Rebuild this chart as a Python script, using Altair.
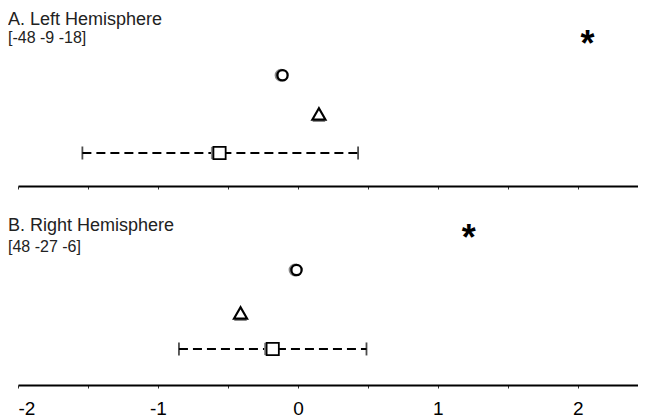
import altair as alt
import pandas as pd

# ---- data ----
panel_titles = ["A. Left Hemisphere", "B. Right Hemisphere"]
panel_coords = ["[-48 -9 -18]", "[48 -27 -6]"]
circle_x = [-0.11, -0.01]
triangle_x = [0.15, -0.41]
square_x = [-0.56, -0.18]
err_lo = [-1.54, -0.85]
err_hi = [0.43, 0.49]
star_x = [2.07, 1.22]

# vertical row positions inside each panel (row units)
row_title = [0.52, 0.84]
row_coord = [1.01, 1.39]
row_star = [1.0, 1.0]
row_circle = [1.97, 1.99]
row_triangle = [2.98, 3.11]
row_square = [4.0, 4.05]
y_domains = [[0.217, 4.861], [0.139, 4.99]]
panel_heights = [178, 186]

tick_values = [-2, -1.5, -1, -0.5, 0, 0.5, 1, 1.5, 2]
x_domain = [-2, 2.43]

FONT = "Liberation Sans"
GRAY = "#8a8a8a"


def panel(i, show_labels):
    df = pd.DataFrame({
        "title": [panel_titles[i]],
        "coord": [panel_coords[i]],
        "circle": [circle_x[i]],
        "triangle": [triangle_x[i]],
        "square": [square_x[i]],
        "lo": [err_lo[i]],
        "hi": [err_hi[i]],
        "star": [star_x[i]],
        "r_title": [row_title[i]],
        "r_coord": [row_coord[i]],
        "r_star": [row_star[i]],
        "r_circle": [row_circle[i]],
        "r_triangle": [row_triangle[i]],
        "r_square": [row_square[i]],
    })
    xs = alt.Scale(domain=x_domain, nice=False, zero=False)
    ys = alt.Scale(domain=y_domains[i], reverse=True, nice=False, zero=False)
    axis = alt.Axis(
        values=tick_values,
        labels=show_labels,
        labelExpr="datum.value % 1 === 0 ? '' + datum.value : ''",
        title=None, grid=False,
        domainColor="black", domainWidth=2,
        tickColor="#333", tickWidth=1, tickSize=3,
        labelFontSize=19, labelFont=FONT, labelColor="black",
        labelPadding=11,
    )
    base = alt.Chart(df)

    def X(field):
        return alt.X(f"{field}:Q", scale=xs, axis=axis, title=None)

    def Y(field):
        return alt.Y(f"{field}:Q", scale=ys, axis=None, title=None)

    rule = base.mark_rule(color="black", strokeWidth=1.9, strokeDash=[9, 5]).encode(
        x=X("lo"), x2="hi:Q", y=Y("r_square"))
    cap_lo = base.mark_tick(orient="vertical", color="black", size=13, thickness=1.8).encode(
        x=X("lo"), y=Y("r_square"))
    cap_hi = base.mark_tick(orient="vertical", color="black", size=13, thickness=1.8).encode(
        x=X("hi"), y=Y("r_square"))

    sq_sh = base.mark_point(shape="square", filled=True, color=GRAY, size=150, xOffset=-2.5, opacity=1).encode(
        x=X("square"), y=Y("r_square"))
    sq = base.mark_point(shape="square", filled=True, fill="white", stroke="black", strokeWidth=1.8,
                         size=150, opacity=1).encode(x=X("square"), y=Y("r_square"))

    ci_sh = base.mark_point(shape="circle", filled=False, stroke=GRAY, strokeWidth=2.6, size=105,
                            xOffset=-1.5, opacity=1).encode(x=X("circle"), y=Y("r_circle"))
    ci = base.mark_point(shape="circle", filled=True, fill="white", stroke="black", strokeWidth=2.3,
                         size=105, opacity=1).encode(x=X("circle"), y=Y("r_circle"))

    tr_sh = base.mark_point(shape="triangle-up", filled=True, color=GRAY, size=170, yOffset=2.5,
                            opacity=1).encode(x=X("triangle"), y=Y("r_triangle"))
    tr = base.mark_point(shape="triangle-up", filled=True, fill="white", stroke="black", strokeWidth=2.2,
                         size=170, opacity=1).encode(x=X("triangle"), y=Y("r_triangle"))

    star = base.mark_text(text="*", font=FONT, fontSize=36, fontWeight="bold", color="black",
                          baseline="middle", dy=7).encode(x=X("star"), y=Y("r_star"))

    title = base.mark_text(align="left", baseline="middle", font=FONT, fontSize=18, color="#222").encode(
        x=alt.value(-10), y=Y("r_title"), text="title:N")
    coord = base.mark_text(align="left", baseline="middle", font=FONT, fontSize=16, color="#222").encode(
        x=alt.value(-10), y=Y("r_coord"), text="coord:N")

    return alt.layer(rule, cap_lo, cap_hi, sq_sh, sq, ci_sh, ci, tr_sh, tr, star, title, coord).properties(
        width=620, height=panel_heights[i])


chart = alt.vconcat(panel(0, False), panel(1, True), spacing=9).properties(
    padding=0, background="white"
).configure_view(stroke=None)

chart.save("out.html", embed_options={"renderer": "svg", "actions": False})
